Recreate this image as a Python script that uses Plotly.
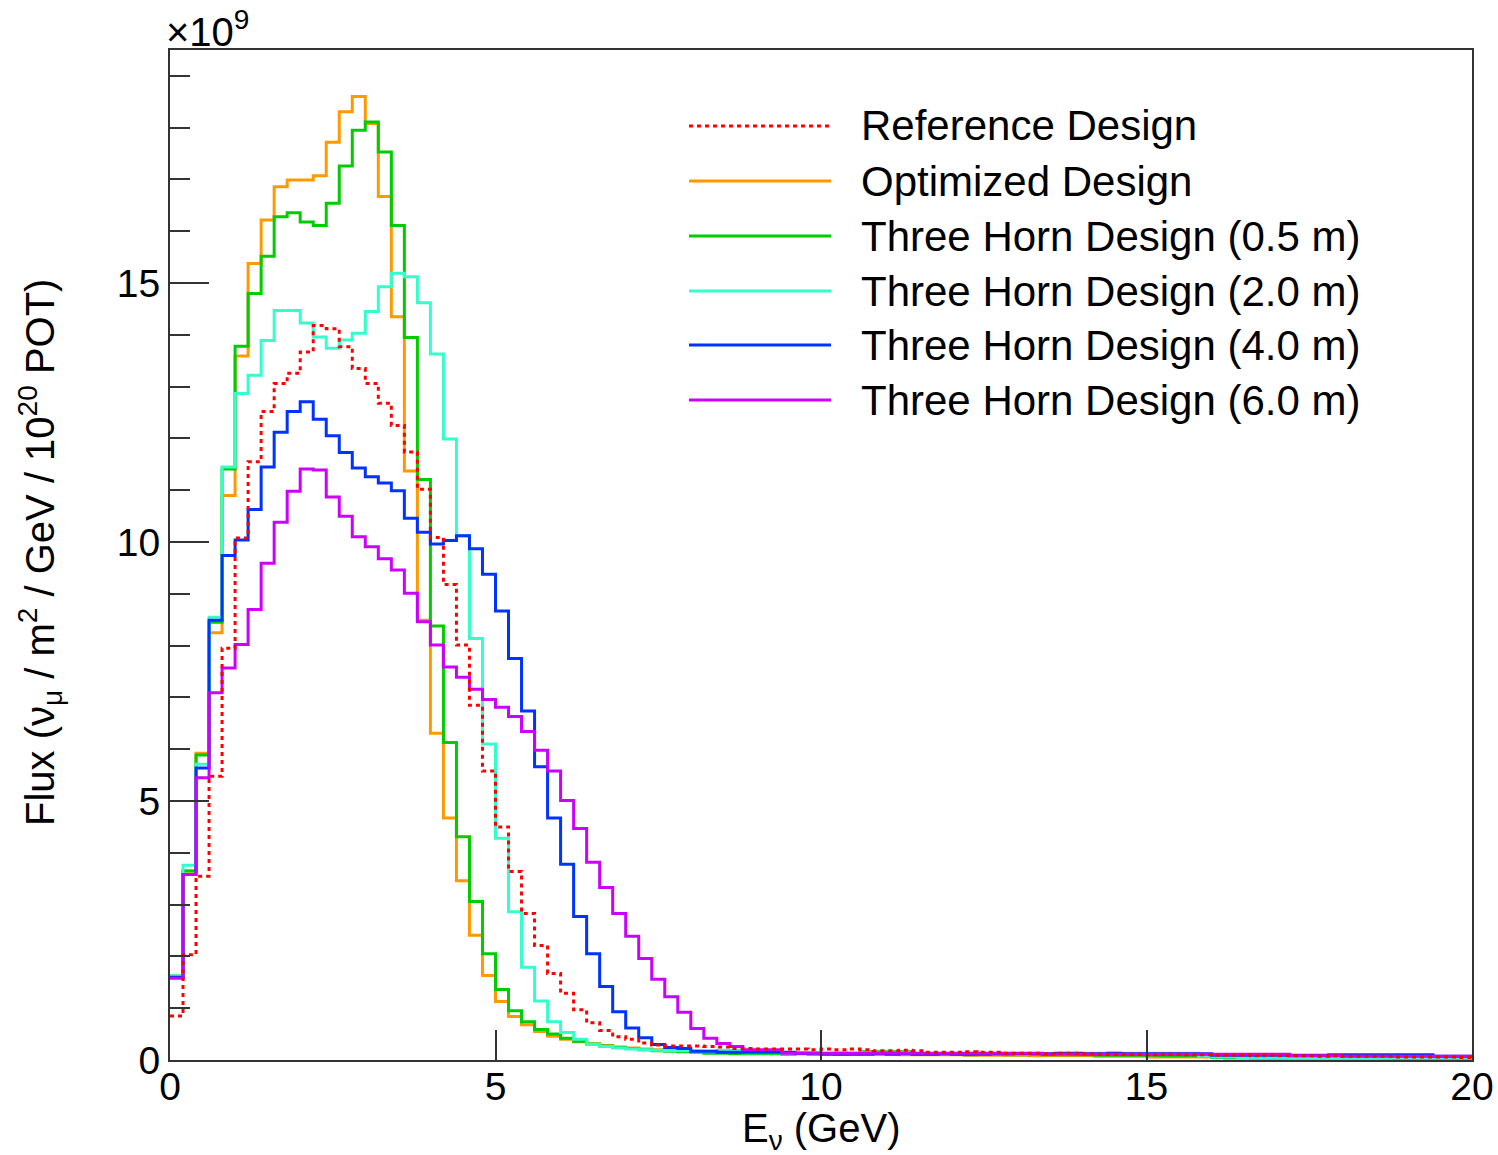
import numpy as np
import plotly.graph_objects as go

# Muon-neutrino flux per 0.2 GeV bin, 0-20 GeV (units of 1e9 / m^2 / GeV / 1e20 POT)
bin_width = 0.2
n_bins = 100

reference = [
    0.85, 2.03, 3.55, 5.48, 7.95, 10.08, 11.55, 12.52, 13.06, 13.26,
    13.67, 14.18, 14.12, 13.77, 13.35, 13.06, 12.68, 12.25, 11.74, 11.02,
    10.09, 9.18, 8.01, 6.85, 5.58, 4.50, 3.64, 2.83, 2.21, 1.67,
    1.29, 0.97, 0.72, 0.57, 0.45, 0.40, 0.33, 0.29, 0.27, 0.27,
    0.27, 0.26, 0.25, 0.22, 0.22, 0.21, 0.21, 0.21, 0.21, 0.20,
    0.21, 0.20, 0.21, 0.20, 0.18, 0.18, 0.19, 0.18, 0.15, 0.15,
    0.15, 0.16, 0.15, 0.15, 0.13, 0.13, 0.13, 0.12, 0.13, 0.13,
    0.12, 0.11, 0.11, 0.11, 0.11, 0.10, 0.11, 0.11, 0.10, 0.10,
    0.09, 0.09, 0.09, 0.08, 0.09, 0.08, 0.08, 0.08, 0.07, 0.08,
    0.07, 0.07, 0.07, 0.07, 0.06, 0.06, 0.06, 0.06, 0.06, 0.05,
]

optimized = [
    1.60, 3.65, 5.92, 8.25, 10.90, 13.59, 15.38, 16.22, 16.86, 16.99,
    16.99, 17.07, 17.72, 18.31, 18.60, 18.08, 16.67, 14.35, 11.37, 8.49,
    6.31, 4.67, 3.46, 2.41, 1.63, 1.13, 0.84, 0.68, 0.55, 0.46,
    0.40, 0.35, 0.31, 0.28, 0.25, 0.23, 0.21, 0.20, 0.19, 0.18,
    0.17, 0.16, 0.15, 0.15, 0.14, 0.14, 0.13, 0.13, 0.13, 0.12,
    0.12, 0.12, 0.11, 0.11, 0.11, 0.11, 0.10, 0.10, 0.10, 0.10,
    0.10, 0.09, 0.09, 0.09, 0.09, 0.09, 0.08, 0.08, 0.08, 0.08,
    0.08, 0.07, 0.07, 0.07, 0.07, 0.06, 0.06, 0.06, 0.06, 0.06,
    0.05, 0.05, 0.05, 0.04, 0.04, 0.04, 0.04, 0.04, 0.04, 0.04,
    0.04, 0.04, 0.04, 0.03, 0.03, 0.03, 0.03, 0.03, 0.03, 0.03,
]

horn_05m = [
    1.62, 3.65, 5.89, 8.45, 11.41, 13.78, 14.80, 15.52, 16.28, 16.36,
    16.18, 16.11, 16.54, 17.26, 17.95, 18.11, 17.53, 16.11, 13.95, 11.21,
    8.38, 6.13, 4.31, 3.06, 2.05, 1.36, 0.95, 0.74, 0.59, 0.50,
    0.42, 0.36, 0.31, 0.27, 0.24, 0.22, 0.20, 0.18, 0.17, 0.16,
    0.15, 0.13, 0.13, 0.12, 0.12, 0.12, 0.12, 0.11, 0.12, 0.11,
    0.12, 0.11, 0.12, 0.16, 0.16, 0.16, 0.16, 0.11, 0.11, 0.11,
    0.11, 0.10, 0.11, 0.11, 0.10, 0.10, 0.11, 0.10, 0.10, 0.10,
    0.10, 0.09, 0.09, 0.09, 0.09, 0.09, 0.08, 0.08, 0.08, 0.07,
    0.05, 0.04, 0.04, 0.04, 0.04, 0.04, 0.04, 0.04, 0.04, 0.04,
    0.04, 0.04, 0.04, 0.04, 0.03, 0.03, 0.03, 0.03, 0.03, 0.03,
]

horn_20m = [
    1.62, 3.76, 5.71, 8.55, 11.45, 12.87, 13.22, 13.89, 14.47, 14.47,
    14.23, 13.96, 13.74, 13.90, 14.03, 14.45, 14.93, 15.19, 15.12, 14.62,
    13.63, 11.99, 10.12, 8.14, 6.10, 4.28, 2.86, 1.79, 1.14, 0.74,
    0.53, 0.40, 0.30, 0.26, 0.23, 0.21, 0.20, 0.19, 0.18, 0.18,
    0.17, 0.17, 0.19, 0.19, 0.14, 0.14, 0.14, 0.13, 0.14, 0.14,
    0.13, 0.14, 0.13, 0.14, 0.13, 0.13, 0.14, 0.12, 0.12, 0.12,
    0.12, 0.12, 0.11, 0.12, 0.12, 0.11, 0.12, 0.12, 0.11, 0.12,
    0.13, 0.13, 0.13, 0.13, 0.13, 0.13, 0.13, 0.13, 0.13, 0.07,
    0.06, 0.06, 0.05, 0.05, 0.05, 0.05, 0.04, 0.04, 0.04, 0.04,
    0.04, 0.04, 0.04, 0.04, 0.04, 0.04, 0.04, 0.04, 0.04, 0.04,
]

horn_40m = [
    1.60, 3.58, 5.64, 8.49, 9.74, 10.04, 10.63, 11.45, 12.12, 12.52,
    12.71, 12.37, 12.05, 11.73, 11.43, 11.26, 11.14, 10.99, 10.46, 10.19,
    9.96, 10.03, 10.12, 9.87, 9.38, 8.67, 7.75, 6.74, 5.66, 4.67,
    3.78, 2.77, 2.05, 1.42, 0.93, 0.62, 0.43, 0.30, 0.24, 0.22,
    0.17, 0.17, 0.15, 0.15, 0.15, 0.15, 0.15, 0.15, 0.13, 0.13,
    0.11, 0.11, 0.11, 0.11, 0.12, 0.11, 0.12, 0.11, 0.11, 0.12,
    0.11, 0.11, 0.11, 0.12, 0.12, 0.12, 0.12, 0.12, 0.13, 0.13,
    0.12, 0.12, 0.13, 0.12, 0.12, 0.12, 0.12, 0.12, 0.12, 0.12,
    0.09, 0.09, 0.09, 0.09, 0.09, 0.09, 0.09, 0.09, 0.09, 0.10,
    0.10, 0.10, 0.10, 0.10, 0.10, 0.10, 0.10, 0.07, 0.07, 0.07,
]

horn_60m = [
    1.58, 3.58, 5.45, 7.09, 7.57, 8.02, 8.70, 9.59, 10.38, 10.98,
    11.41, 11.39, 10.87, 10.50, 10.10, 9.91, 9.68, 9.46, 9.01, 8.46,
    8.01, 7.59, 7.39, 7.16, 6.96, 6.81, 6.63, 6.34, 5.98, 5.58,
    5.01, 4.47, 3.82, 3.33, 2.83, 2.39, 1.96, 1.56, 1.22, 0.92,
    0.61, 0.42, 0.32, 0.26, 0.20, 0.20, 0.20, 0.13, 0.13, 0.13,
    0.13, 0.13, 0.13, 0.13, 0.13, 0.13, 0.13, 0.13, 0.13, 0.13,
    0.13, 0.13, 0.13, 0.13, 0.13, 0.13, 0.13, 0.11, 0.11, 0.11,
    0.11, 0.11, 0.11, 0.11, 0.11, 0.11, 0.11, 0.11, 0.11, 0.11,
    0.11, 0.11, 0.11, 0.11, 0.11, 0.11, 0.08, 0.08, 0.08, 0.08,
    0.07, 0.07, 0.07, 0.07, 0.07, 0.07, 0.07, 0.07, 0.07, 0.07,
]

series_names = [
    "Reference Design",
    "Optimized Design",
    "Three Horn Design (0.5 m)",
    "Three Horn Design (2.0 m)",
    "Three Horn Design (4.0 m)",
    "Three Horn Design (6.0 m)",
]
series_values = [reference, optimized, horn_05m, horn_20m, horn_40m, horn_60m]
series_colors = ["#ff0000", "#ff9900", "#00cc00", "#33ffcc", "#0033ff", "#cc00ff"]
series_dash = ["4px,4px", "solid", "solid", "solid", "solid", "solid"]

x_ticks = [0, 5, 10, 15, 20]
y_ticks = [0, 5, 10, 15]

FONT = "Liberation Sans, Arial, Helvetica, sans-serif"

edges = np.arange(n_bins + 1) * bin_width

fig = go.Figure()

# Draw the histograms back-to-front so the reference (dotted) is on top
draw_order = [1, 2, 3, 4, 5, 0]
for i in draw_order:
    vals = series_values[i]
    fig.add_trace(go.Scatter(
        x=edges,
        y=list(vals) + [vals[-1]],
        mode="lines",
        line=dict(shape="hv", color=series_colors[i], width=3, dash=series_dash[i]),
        name=series_names[i],
        showlegend=False,
        hoverinfo="skip",
    ))

# Plot frame geometry (pixels)
W, H = 1498, 1155
L, R, T, B = 170, 26, 50, 95
pw, ph = W - L - R, H - T - B


def px_x(px):
    return (px - L) / pw


def px_y(py):
    return (H - B - py) / ph


# Legend drawn as line samples + labels
legend_rows = [126, 181, 236, 291, 345, 400]
for i, yrow in enumerate(legend_rows):
    fig.add_shape(
        type="line", xref="paper", yref="paper",
        x0=px_x(689), x1=px_x(831), y0=px_y(yrow), y1=px_y(yrow),
        line=dict(color=series_colors[i], width=3, dash=series_dash[i]),
    )
    fig.add_annotation(
        xref="paper", yref="paper", x=px_x(859), y=px_y(yrow),
        xanchor="left", yanchor="middle", text=series_names[i], showarrow=False,
        font=dict(family=FONT, size=42, color="black"),
    )

# Exponent label above the y axis
fig.add_annotation(
    xref="paper", yref="paper", x=px_x(164), y=1.0, xanchor="left", yanchor="bottom",
    text="×10<sup>9</sup>", showarrow=False, yshift=-6,
    font=dict(family=FONT, size=40, color="black"),
)

# Axis titles
fig.add_annotation(
    xref="paper", yref="paper", x=0.5, y=px_y(1131), xanchor="center", yanchor="middle",
    text="E<sub>ν</sub> (GeV)", showarrow=False,
    font=dict(family=FONT, size=40, color="black"),
)
fig.add_annotation(
    xref="paper", yref="paper", x=px_x(40), y=px_y(553), xanchor="center", yanchor="middle",
    text="Flux (ν<sub>μ</sub> / m<sup>2</sup> / GeV / 10<sup>20</sup> POT)", showarrow=False,
    textangle=-90,
    font=dict(family=FONT, size=40, color="black"),
)

fig.update_layout(
    width=W, height=H,
    margin=dict(l=L, r=R, t=T, b=B, pad=0, autoexpand=False),
    paper_bgcolor="white", plot_bgcolor="white",
    font=dict(family=FONT, size=38, color="black"),
)

fig.update_xaxes(
    range=[0, 20], tickvals=x_ticks, ticktext=[str(v) for v in x_ticks],
    ticks="inside", ticklen=30, tickwidth=2, tickcolor="#333333",
    showline=True, linecolor="#333333", linewidth=2, mirror=True,
    showgrid=False, zeroline=False, automargin=False,
    ticklabelstandoff=-9,
    tickfont=dict(family=FONT, size=39, color="black"),
)

fig.update_yaxes(
    range=[0, 19.5], tickvals=y_ticks, ticktext=[str(v) for v in y_ticks],
    ticks="inside", ticklen=39, tickwidth=2, tickcolor="#333333",
    minor=dict(dtick=1, ticks="inside", ticklen=20, tickwidth=2, tickcolor="#333333", showgrid=False),
    showline=True, linecolor="#333333", linewidth=2, mirror=True,
    showgrid=False, zeroline=False, automargin=False,
    tickfont=dict(family=FONT, size=39, color="black"),
)

fig.write_html("out.html")
